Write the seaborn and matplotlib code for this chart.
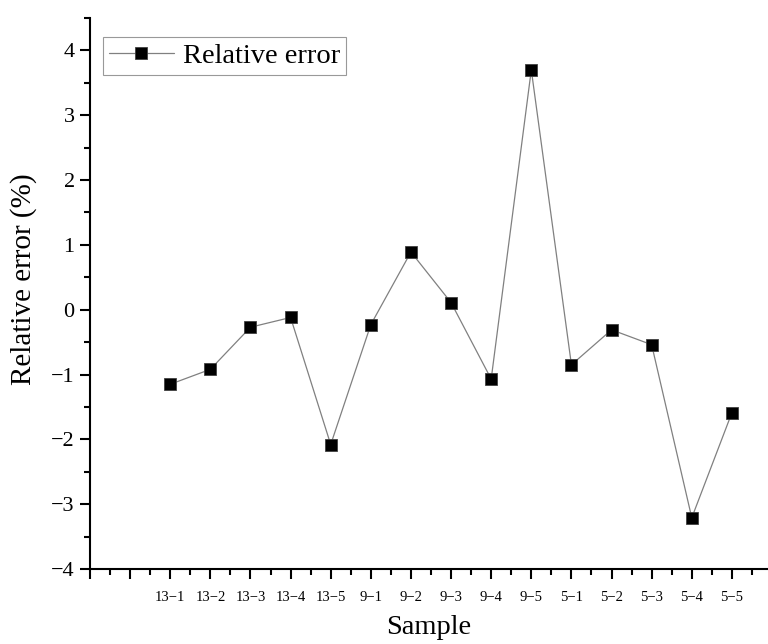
import matplotlib
matplotlib.use("Agg")
import matplotlib.pyplot as plt
import seaborn as sns
import pandas as pd
from matplotlib.ticker import MultipleLocator, FixedLocator

samples = ["13−1", "13−2", "13−3", "13−4", "13−5",
           "9−1", "9−2", "9−3", "9−4", "9−5",
           "5−1", "5−2", "5−3", "5−4", "5−5"]
relative_error = [-1.15, -0.92, -0.27, -0.12, -2.08,
                  -0.23, 0.89, 0.11, -1.07, 3.70,
                  -0.85, -0.31, -0.54, -3.21, -1.59]
positions = list(range(2, 2 + len(samples)))

df = pd.DataFrame({"pos": positions, "err": relative_error, "series": "Relative error"})

sns.set_style("ticks")
plt.rcParams['font.family'] = ['Liberation Serif', 'DejaVu Serif']
plt.rcParams['mathtext.fontset'] = 'stix'
for k in ["text.color", "axes.labelcolor", "xtick.color", "ytick.color", "axes.edgecolor"]:
    plt.rcParams[k] = "black"

fig = plt.figure(figsize=(7.68, 6.44), dpi=100)
ax = fig.add_axes([90/768, 75/644, (768-90)/768, (569-18)/644])

sns.lineplot(data=df, x="pos", y="err", ax=ax, color="#808080", linewidth=0.9,
             marker="s", markersize=9, markerfacecolor="black", markeredgecolor="#404040",
             markeredgewidth=0.6, label="Relative error", sort=False)

ax.set_xlim(0, 16.9)
ax.set_ylim(-4, 4.5)
ax.xaxis.set_major_locator(FixedLocator(list(range(0, 17))))
ax.set_xticklabels([""] * 2 + samples)
ax.xaxis.set_minor_locator(MultipleLocator(0.5))
ax.yaxis.set_minor_locator(MultipleLocator(0.5))
ax.set_yticks(range(-4, 5))
ax.set_yticklabels(["−4", "−3", "−2", "−1", "0", "1", "2", "3", "4"])

for s in ["top", "right"]:
    ax.spines[s].set_visible(False)
for s in ["left", "bottom"]:
    ax.spines[s].set_linewidth(1.5)
    ax.spines[s].set_color("black")

ax.tick_params(axis="both", which="major", direction="out", length=7, width=1.5, color="black")
ax.tick_params(axis="both", which="minor", direction="out", length=4, width=1.5, color="black")
ax.tick_params(axis="y", which="major", labelsize=16, pad=4)
ax.tick_params(axis="x", which="major", labelsize=10.5, pad=9)

ax.set_xlabel("Sample", fontsize=20.5, labelpad=8)
ax.set_ylabel("Relative error (%)", fontsize=21)
ax.yaxis.set_label_coords(-0.078, 0.526)

leg = ax.legend(loc="upper left", bbox_to_anchor=(0.019, 0.965), fontsize=20.5,
                frameon=True, fancybox=False, handlelength=2.3, handletextpad=0.3,
                borderpad=0.2, borderaxespad=0)
leg.get_frame().set_edgecolor("#808080")
leg.get_frame().set_linewidth(0.8)

fig.savefig("out.png", dpi=100)
